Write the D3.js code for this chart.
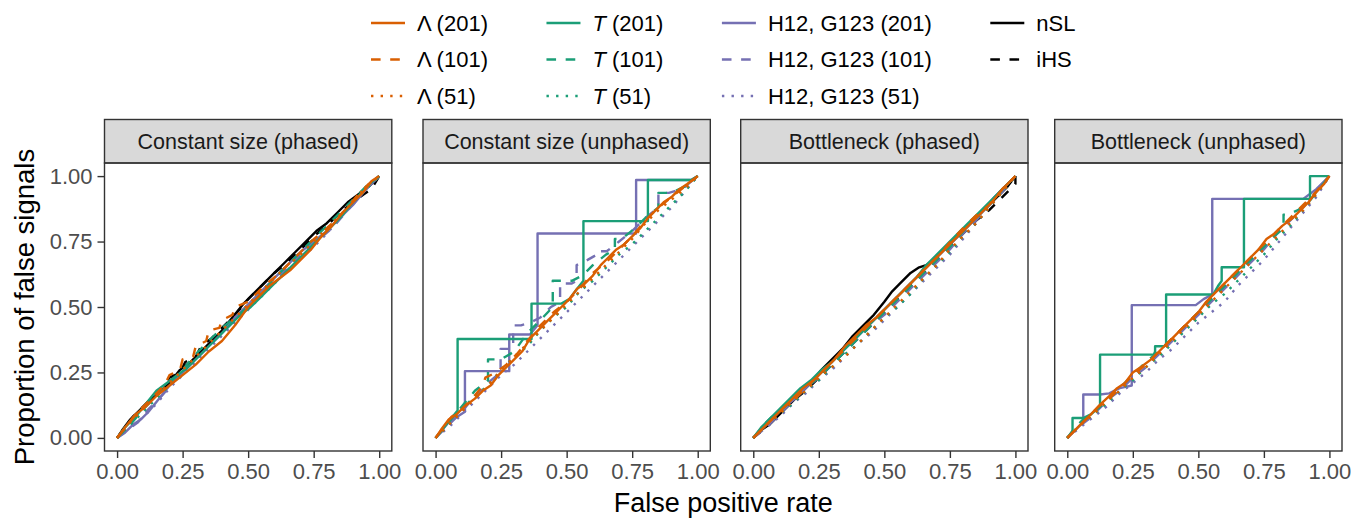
<!DOCTYPE html>
<html>
<head>
<meta charset="utf-8">
<script src="https://cdn.jsdelivr.net/npm/d3@7"></script>
<style>
  html, body { margin: 0; padding: 0; background: #fff; }
  svg { display: block; }
  text { font-family: "Liberation Sans", Arial, sans-serif; }
</style>
</head>
<body>
<svg id="chart" width="1354" height="518"></svg>
<script>
// ---- facet titles and axis ticks ----
const panelTitles = ["Constant size (phased)", "Constant size (unphased)", "Bottleneck (phased)", "Bottleneck (unphased)"];
const tickValues = [0, 0.25, 0.5, 0.75, 1];
const tickLabels = ["0.00", "0.25", "0.50", "0.75", "1.00"];

// ---- series definitions (drawing order: back to front) ----
const seriesKeys   = ["ihs", "nsl", "h51", "h101", "h201", "t51", "t101", "t201", "lam51", "lam101", "lam201"];
const seriesColors = ["#000000", "#000000", "#7570B3", "#7570B3", "#7570B3", "#1B9E77", "#1B9E77", "#1B9E77", "#D95F02", "#D95F02", "#D95F02"];
const seriesTypes  = ["dashed", "solid", "dotted", "dashed", "solid", "dotted", "dashed", "solid", "dotted", "dashed", "solid"];

// ---- Constant size (phased): [false positive rate, proportion of false signals] ----
const cpNSL = [[0,0],[0.02,0.03],[0.05,0.07],[0.08,0.1],[0.12,0.14],[0.16,0.17],[0.2,0.21],[0.24,0.26],[0.28,0.29],[0.32,0.33],[0.36,0.37],[0.4,0.41],[0.44,0.46],[0.48,0.51],[0.52,0.55],[0.56,0.59],[0.6,0.63],[0.64,0.67],[0.68,0.71],[0.72,0.75],[0.76,0.79],[0.8,0.82],[0.84,0.86],[0.88,0.9],[0.92,0.93],[0.96,0.96],[1,1]];
const cpIHS = [[0,0],[0.03,0.04],[0.06,0.08],[0.1,0.12],[0.14,0.16],[0.18,0.2],[0.2,0.23],[0.24,0.25],[0.26,0.29],[0.3,0.31],[0.32,0.35],[0.36,0.38],[0.4,0.42],[0.45,0.47],[0.5,0.53],[0.55,0.58],[0.6,0.63],[0.65,0.67],[0.7,0.72],[0.75,0.77],[0.8,0.81],[0.85,0.86],[0.9,0.9],[0.94,0.93],[0.97,0.95],[1,1]];
const cpLam201 = [[0,0],[0.03,0.04],[0.07,0.09],[0.11,0.12],[0.15,0.16],[0.2,0.2],[0.25,0.24],[0.3,0.28],[0.35,0.33],[0.4,0.37],[0.45,0.43],[0.5,0.5],[0.54,0.54],[0.58,0.58],[0.62,0.61],[0.66,0.64],[0.7,0.68],[0.74,0.72],[0.78,0.77],[0.82,0.81],[0.86,0.86],[0.9,0.9],[0.94,0.94],[0.97,0.98],[1,1]];
const cpLam101 = [[0,0],[0.04,0.05],[0.08,0.1],[0.13,0.15],[0.18,0.2],[0.2,0.24],[0.24,0.26],[0.25,0.3],[0.29,0.31],[0.3,0.35],[0.34,0.37],[0.35,0.41],[0.39,0.42],[0.4,0.45],[0.44,0.47],[0.45,0.5],[0.5,0.52],[0.56,0.58],[0.62,0.63],[0.68,0.69],[0.74,0.75],[0.8,0.8],[0.86,0.86],[0.92,0.93],[0.96,0.97],[1,1]];
const cpLam51 = [[0,0],[0.05,0.06],[0.1,0.11],[0.16,0.17],[0.22,0.23],[0.28,0.29],[0.34,0.35],[0.4,0.41],[0.46,0.47],[0.52,0.53],[0.58,0.59],[0.64,0.65],[0.7,0.7],[0.76,0.76],[0.82,0.82],[0.88,0.88],[0.94,0.95],[1,1]];
const cpT201 = [[0,0],[0.03,0.04],[0.07,0.08],[0.11,0.13],[0.15,0.18],[0.19,0.21],[0.23,0.24],[0.27,0.27],[0.31,0.31],[0.35,0.35],[0.39,0.39],[0.43,0.43],[0.47,0.47],[0.51,0.5],[0.55,0.54],[0.59,0.58],[0.63,0.62],[0.67,0.66],[0.71,0.7],[0.75,0.74],[0.8,0.79],[0.85,0.84],[0.9,0.9],[0.95,0.96],[1,1]];
const cpT101 = [[0,0],[0.05,0.05],[0.1,0.11],[0.15,0.16],[0.2,0.21],[0.25,0.26],[0.3,0.32],[0.35,0.37],[0.4,0.42],[0.45,0.46],[0.5,0.5],[0.55,0.55],[0.6,0.61],[0.65,0.66],[0.7,0.71],[0.75,0.76],[0.8,0.81],[0.85,0.86],[0.9,0.91],[0.95,0.96],[1,1]];
const cpT51 = [[0,0],[0.06,0.06],[0.12,0.12],[0.18,0.18],[0.24,0.24],[0.3,0.3],[0.36,0.36],[0.42,0.42],[0.48,0.48],[0.54,0.53],[0.6,0.59],[0.66,0.65],[0.72,0.71],[0.78,0.77],[0.84,0.83],[0.9,0.9],[0.95,0.95],[1,1]];
const cpH201 = [[0,0],[0.03,0.02],[0.06,0.05],[0.09,0.07],[0.12,0.1],[0.16,0.15],[0.2,0.2],[0.25,0.25],[0.3,0.3],[0.35,0.35],[0.4,0.4],[0.45,0.46],[0.5,0.51],[0.55,0.56],[0.6,0.61],[0.65,0.66],[0.7,0.71],[0.75,0.75],[0.8,0.79],[0.85,0.84],[0.9,0.89],[0.95,0.95],[1,1]];
const cpH101 = [[0,0],[0.04,0.03],[0.08,0.06],[0.12,0.11],[0.17,0.16],[0.22,0.22],[0.28,0.28],[0.34,0.34],[0.4,0.4],[0.46,0.46],[0.52,0.52],[0.58,0.58],[0.64,0.64],[0.7,0.7],[0.76,0.75],[0.82,0.8],[0.88,0.87],[0.94,0.94],[1,1]];
const cpH51 = [[0,0],[0.05,0.04],[0.1,0.08],[0.15,0.13],[0.2,0.19],[0.26,0.25],[0.32,0.31],[0.38,0.37],[0.44,0.43],[0.5,0.49],[0.56,0.55],[0.62,0.61],[0.68,0.67],[0.74,0.72],[0.8,0.78],[0.86,0.85],[0.92,0.92],[1,1]];

// ---- Constant size (unphased) ----
const cuLam201 = [[0,0],[0.02,0.03],[0.05,0.07],[0.08,0.09],[0.11,0.12],[0.15,0.15],[0.18,0.18],[0.21,0.2],[0.24,0.24],[0.27,0.27],[0.3,0.3],[0.33,0.33],[0.36,0.38],[0.39,0.41],[0.42,0.44],[0.45,0.47],[0.48,0.5],[0.51,0.53],[0.54,0.57],[0.57,0.59],[0.6,0.62],[0.63,0.66],[0.66,0.69],[0.69,0.72],[0.72,0.74],[0.75,0.77],[0.78,0.8],[0.81,0.84],[0.84,0.87],[0.87,0.9],[0.9,0.92],[0.93,0.95],[0.96,0.97],[1,1]];
const cuLam101 = [[0,0],[0.03,0.04],[0.06,0.08],[0.1,0.11],[0.14,0.15],[0.18,0.2],[0.19,0.23],[0.23,0.25],[0.27,0.28],[0.31,0.32],[0.35,0.37],[0.4,0.43],[0.45,0.48],[0.5,0.52],[0.55,0.57],[0.6,0.63],[0.65,0.67],[0.7,0.72],[0.75,0.77],[0.8,0.83],[0.85,0.88],[0.9,0.92],[0.95,0.96],[1,1]];
const cuLam51 = [[0,0],[0.05,0.05],[0.1,0.1],[0.15,0.15],[0.2,0.2],[0.25,0.26],[0.3,0.31],[0.35,0.36],[0.4,0.41],[0.45,0.46],[0.5,0.51],[0.55,0.56],[0.6,0.61],[0.65,0.66],[0.7,0.71],[0.75,0.76],[0.8,0.82],[0.85,0.87],[0.9,0.91],[0.95,0.95],[1,1]];
const cuT201 = [[0,0],[0.04,0.05],[0.084,0.105],[0.084,0.378],[0.366,0.378],[0.366,0.513],[0.48,0.513],[0.51,0.53],[0.54,0.57],[0.564,0.6],[0.564,0.828],[0.81,0.828],[0.81,0.985],[0.975,0.985],[1,1]];
const cuT101 = [[0,0],[0.05,0.06],[0.1,0.12],[0.15,0.18],[0.2,0.22],[0.2,0.3],[0.25,0.3],[0.3,0.33],[0.35,0.4],[0.4,0.45],[0.447,0.5],[0.447,0.6],[0.52,0.6],[0.56,0.62],[0.6,0.66],[0.65,0.7],[0.684,0.72],[0.684,0.76],[0.71,0.76],[0.76,0.8],[0.8,0.84],[0.85,0.88],[0.85,0.936],[0.9,0.936],[0.95,0.96],[1,1]];
const cuT51 = [[0,0],[0.05,0.05],[0.1,0.11],[0.15,0.16],[0.2,0.2],[0.25,0.26],[0.3,0.31],[0.35,0.35],[0.4,0.41],[0.45,0.46],[0.5,0.5],[0.55,0.56],[0.6,0.6],[0.65,0.65],[0.7,0.7],[0.75,0.74],[0.8,0.79],[0.85,0.84],[0.9,0.89],[0.95,0.94],[1,1]];
const cuH201 = [[0,0],[0.05,0.06],[0.112,0.1],[0.112,0.255],[0.281,0.255],[0.281,0.395],[0.36,0.395],[0.389,0.43],[0.389,0.781],[0.765,0.781],[0.765,0.985],[0.975,0.985],[1,1]];
const cuH101 = [[0,0],[0.05,0.05],[0.1,0.1],[0.15,0.16],[0.2,0.21],[0.248,0.25],[0.248,0.34],[0.296,0.34],[0.296,0.43],[0.326,0.43],[0.36,0.44],[0.4,0.46],[0.44,0.5],[0.475,0.52],[0.475,0.59],[0.52,0.59],[0.538,0.6],[0.538,0.66],[0.58,0.68],[0.615,0.7],[0.615,0.713],[0.653,0.713],[0.7,0.75],[0.75,0.79],[0.8,0.84],[0.85,0.88],[0.85,0.936],[0.89,0.936],[0.94,0.95],[1,1]];
const cuH51 = [[0,0],[0.05,0.04],[0.1,0.09],[0.15,0.14],[0.2,0.19],[0.25,0.24],[0.3,0.28],[0.35,0.33],[0.4,0.38],[0.45,0.43],[0.5,0.48],[0.55,0.53],[0.6,0.58],[0.65,0.63],[0.7,0.68],[0.75,0.73],[0.8,0.78],[0.85,0.83],[0.9,0.88],[0.95,0.94],[1,1]];

// ---- Bottleneck (phased) ----
const bpNSL = [[0,0],[0.03,0.03],[0.06,0.05],[0.1,0.09],[0.14,0.13],[0.18,0.17],[0.22,0.21],[0.26,0.26],[0.3,0.3],[0.34,0.34],[0.38,0.39],[0.42,0.43],[0.46,0.47],[0.5,0.52],[0.53,0.56],[0.56,0.59],[0.6,0.63],[0.63,0.65],[0.66,0.66],[0.7,0.69],[0.74,0.73],[0.78,0.77],[0.82,0.81],[0.86,0.85],[0.9,0.89],[0.94,0.93],[0.97,0.96],[1,1]];
const bpIHS = [[0,0],[0.05,0.04],[0.1,0.09],[0.15,0.14],[0.2,0.18],[0.25,0.23],[0.3,0.28],[0.35,0.33],[0.4,0.38],[0.45,0.43],[0.5,0.48],[0.55,0.53],[0.6,0.58],[0.65,0.63],[0.7,0.68],[0.75,0.73],[0.8,0.78],[0.85,0.83],[0.9,0.87],[0.95,0.92],[0.98,0.95],[1,0.97],[1,1]];
const bpLam201 = [[0,0],[0.03,0.03],[0.07,0.07],[0.11,0.11],[0.15,0.15],[0.19,0.19],[0.23,0.22],[0.27,0.26],[0.31,0.3],[0.35,0.35],[0.39,0.39],[0.43,0.43],[0.47,0.46],[0.51,0.5],[0.55,0.54],[0.59,0.58],[0.63,0.62],[0.67,0.66],[0.71,0.7],[0.75,0.74],[0.79,0.78],[0.83,0.82],[0.87,0.86],[0.91,0.9],[0.95,0.95],[1,1]];
const bpLam101 = [[0,0],[0.04,0.04],[0.08,0.08],[0.12,0.12],[0.17,0.16],[0.22,0.21],[0.27,0.26],[0.32,0.31],[0.37,0.36],[0.42,0.41],[0.47,0.46],[0.52,0.51],[0.57,0.56],[0.62,0.61],[0.67,0.66],[0.72,0.71],[0.76,0.76],[0.8,0.8],[0.85,0.85],[0.9,0.89],[0.95,0.95],[1,1]];
const bpLam51 = [[0,0],[0.05,0.05],[0.1,0.09],[0.15,0.14],[0.2,0.18],[0.25,0.23],[0.3,0.27],[0.35,0.31],[0.4,0.36],[0.45,0.41],[0.5,0.46],[0.55,0.51],[0.6,0.56],[0.65,0.61],[0.7,0.66],[0.75,0.72],[0.8,0.77],[0.85,0.82],[0.9,0.88],[0.95,0.94],[1,1]];
const bpT201 = [[0,0],[0.03,0.04],[0.06,0.07],[0.1,0.11],[0.14,0.15],[0.18,0.19],[0.22,0.22],[0.26,0.26],[0.3,0.29],[0.34,0.33],[0.38,0.37],[0.42,0.41],[0.46,0.45],[0.5,0.49],[0.54,0.53],[0.58,0.57],[0.62,0.61],[0.66,0.66],[0.7,0.7],[0.74,0.74],[0.78,0.78],[0.82,0.82],[0.86,0.86],[0.9,0.9],[0.95,0.95],[1,1]];
const bpT101 = [[0,0],[0.04,0.05],[0.08,0.09],[0.12,0.12],[0.16,0.15],[0.21,0.2],[0.26,0.24],[0.31,0.29],[0.36,0.34],[0.41,0.39],[0.46,0.44],[0.51,0.49],[0.56,0.54],[0.61,0.59],[0.66,0.64],[0.71,0.69],[0.76,0.74],[0.81,0.8],[0.86,0.85],[0.91,0.9],[0.96,0.96],[1,1]];
const bpT51 = [[0,0],[0.05,0.05],[0.1,0.09],[0.15,0.13],[0.2,0.18],[0.25,0.22],[0.3,0.27],[0.35,0.32],[0.4,0.36],[0.45,0.41],[0.5,0.46],[0.55,0.5],[0.6,0.55],[0.65,0.61],[0.7,0.66],[0.75,0.71],[0.8,0.77],[0.85,0.82],[0.9,0.88],[0.95,0.94],[1,1]];
const bpH201 = [[0,0],[0.04,0.04],[0.08,0.08],[0.12,0.12],[0.16,0.15],[0.2,0.19],[0.24,0.23],[0.28,0.27],[0.32,0.31],[0.36,0.35],[0.4,0.39],[0.44,0.43],[0.48,0.47],[0.52,0.51],[0.56,0.55],[0.6,0.59],[0.64,0.63],[0.68,0.67],[0.72,0.71],[0.76,0.75],[0.8,0.79],[0.84,0.83],[0.88,0.87],[0.92,0.92],[0.96,0.96],[1,1]];
const bpH101 = [[0,0],[0.05,0.04],[0.1,0.09],[0.15,0.14],[0.2,0.19],[0.25,0.23],[0.3,0.28],[0.35,0.33],[0.4,0.38],[0.45,0.43],[0.5,0.47],[0.55,0.52],[0.6,0.57],[0.65,0.62],[0.7,0.67],[0.75,0.72],[0.8,0.78],[0.85,0.83],[0.9,0.89],[0.95,0.94],[1,1]];
const bpH51 = [[0,0],[0.05,0.04],[0.1,0.08],[0.15,0.13],[0.2,0.17],[0.25,0.22],[0.3,0.26],[0.35,0.31],[0.4,0.36],[0.45,0.4],[0.5,0.45],[0.55,0.5],[0.6,0.55],[0.65,0.6],[0.7,0.65],[0.75,0.7],[0.8,0.76],[0.85,0.82],[0.9,0.88],[0.95,0.94],[1,1]];

// ---- Bottleneck (unphased) ----
const buLam201 = [[0,0],[0.03,0.03],[0.06,0.06],[0.09,0.09],[0.125,0.127],[0.16,0.16],[0.19,0.19],[0.22,0.21],[0.25,0.25],[0.28,0.27],[0.32,0.3],[0.35,0.33],[0.38,0.36],[0.41,0.39],[0.44,0.42],[0.47,0.45],[0.5,0.48],[0.53,0.52],[0.56,0.55],[0.6,0.59],[0.63,0.62],[0.66,0.65],[0.7,0.69],[0.73,0.72],[0.76,0.76],[0.79,0.78],[0.82,0.81],[0.86,0.84],[0.89,0.87],[0.92,0.9],[0.95,0.94],[0.98,0.97],[1,1]];
const buLam101 = [[0,0],[0.04,0.04],[0.08,0.08],[0.12,0.12],[0.16,0.15],[0.2,0.19],[0.25,0.24],[0.3,0.28],[0.35,0.33],[0.4,0.38],[0.45,0.43],[0.5,0.48],[0.55,0.54],[0.6,0.59],[0.65,0.64],[0.7,0.69],[0.75,0.74],[0.8,0.79],[0.85,0.84],[0.9,0.89],[0.95,0.94],[1,1]];
const buLam51 = [[0,0],[0.05,0.05],[0.1,0.09],[0.15,0.14],[0.2,0.18],[0.25,0.23],[0.3,0.27],[0.35,0.32],[0.4,0.37],[0.45,0.42],[0.5,0.47],[0.55,0.52],[0.6,0.57],[0.65,0.62],[0.7,0.67],[0.75,0.72],[0.8,0.77],[0.85,0.82],[0.9,0.87],[0.95,0.93],[1,1]];
const buT201 = [[0,0],[0.02,0.025],[0.02,0.076],[0.061,0.076],[0.09,0.09],[0.125,0.12],[0.125,0.318],[0.33,0.318],[0.335,0.33],[0.335,0.35],[0.37,0.35],[0.377,0.36],[0.377,0.548],[0.557,0.548],[0.575,0.58],[0.589,0.6],[0.589,0.652],[0.674,0.652],[0.674,0.913],[0.926,0.913],[0.926,1],[1,1]];
const buT101 = [[0,0],[0.03,0.04],[0.06,0.07],[0.1,0.1],[0.15,0.14],[0.2,0.19],[0.25,0.24],[0.3,0.29],[0.35,0.33],[0.4,0.38],[0.45,0.43],[0.5,0.48],[0.55,0.53],[0.6,0.58],[0.65,0.63],[0.7,0.68],[0.75,0.73],[0.8,0.78],[0.825,0.8],[0.825,0.853],[0.84,0.853],[0.88,0.87],[0.92,0.9],[0.96,0.95],[1,1]];
const buT51 = [[0,0],[0.05,0.05],[0.1,0.09],[0.15,0.13],[0.2,0.18],[0.25,0.22],[0.3,0.27],[0.35,0.31],[0.4,0.36],[0.45,0.41],[0.5,0.46],[0.55,0.51],[0.6,0.55],[0.65,0.6],[0.7,0.65],[0.75,0.7],[0.8,0.76],[0.85,0.81],[0.9,0.87],[0.95,0.93],[1,1]];
const buH201 = [[0,0],[0.03,0.03],[0.061,0.06],[0.061,0.166],[0.125,0.166],[0.16,0.17],[0.2,0.19],[0.246,0.2],[0.246,0.507],[0.49,0.507],[0.52,0.53],[0.553,0.548],[0.553,0.913],[0.9,0.913],[0.95,0.95],[1,1]];
const buH101 = [[0,0],[0.04,0.04],[0.08,0.07],[0.12,0.11],[0.16,0.15],[0.2,0.18],[0.25,0.23],[0.3,0.27],[0.35,0.32],[0.4,0.37],[0.45,0.42],[0.5,0.47],[0.55,0.52],[0.6,0.57],[0.65,0.62],[0.7,0.67],[0.75,0.72],[0.8,0.78],[0.85,0.83],[0.9,0.88],[0.95,0.94],[1,1]];
const buH51 = [[0,0],[0.05,0.04],[0.1,0.08],[0.15,0.12],[0.2,0.17],[0.25,0.21],[0.3,0.25],[0.35,0.3],[0.4,0.34],[0.45,0.39],[0.5,0.44],[0.55,0.48],[0.6,0.52],[0.65,0.58],[0.7,0.63],[0.75,0.68],[0.8,0.74],[0.85,0.8],[0.9,0.86],[0.95,0.92],[1,1]];

// ---- legend entries (columns of the key) ----
const legendColumns = [
  [{key: "lam201", label: ["Λ", " (201)"]}, {key: "lam101", label: ["Λ", " (101)"]}, {key: "lam51", label: ["Λ", " (51)"]}],
  [{key: "t201", label: ["T", " (201)"], italic: true}, {key: "t101", label: ["T", " (101)"], italic: true}, {key: "t51", label: ["T", " (51)"], italic: true}],
  [{key: "h201", label: ["H12, G123", " (201)"]}, {key: "h101", label: ["H12, G123", " (101)"]}, {key: "h51", label: ["H12, G123", " (51)"]}],
  [{key: "nsl", label: ["nSL", ""]}, {key: "ihs", label: ["iHS", ""]}]
];

// series grouped by facet
const panelSeries = [
  {ihs: cpIHS, nsl: cpNSL, h51: cpH51, h101: cpH101, h201: cpH201, t51: cpT51, t101: cpT101, t201: cpT201, lam51: cpLam51, lam101: cpLam101, lam201: cpLam201},
  {h51: cuH51, h101: cuH101, h201: cuH201, t51: cuT51, t101: cuT101, t201: cuT201, lam51: cuLam51, lam101: cuLam101, lam201: cuLam201},
  {ihs: bpIHS, nsl: bpNSL, h51: bpH51, h101: bpH101, h201: bpH201, t51: bpT51, t101: bpT101, t201: bpT201, lam51: bpLam51, lam101: bpLam101, lam201: bpLam201},
  {h51: buH51, h101: buH101, h201: buH201, t51: buT51, t101: buT101, t201: buT201, lam51: buLam51, lam101: buLam101, lam201: buLam201}
];

// ---- layout ----
const svg = d3.select("#chart");
const panelLefts = [104.5, 423, 740.7, 1054.7];
const panelW = 287.3;
const plotTop = 163, plotBottom = 451;
const stripTop = 119.5;
const lineW = 2.4;
const dashFor = t => t === "dashed" ? `${4*lineW},${4*lineW}` : t === "dotted" ? `${lineW},${3*lineW}` : null;
const styleOf = k => { const i = seriesKeys.indexOf(k); return {color: seriesColors[i], type: seriesTypes[i]}; };

const y = d3.scaleLinear().domain([-0.05, 1.05]).range([plotBottom, plotTop]);

panelTitles.forEach((title, p) => {
  const left = panelLefts[p];
  const x = d3.scaleLinear().domain([-0.048, 1.048]).range([left, left + panelW]);
  const g = svg.append("g");

  g.append("rect").attr("x", left).attr("y", plotTop).attr("width", panelW).attr("height", plotBottom - plotTop)
    .attr("fill", "#fff");

  // strip
  g.append("rect").attr("x", left).attr("y", stripTop).attr("width", panelW).attr("height", plotTop - stripTop)
    .attr("fill", "#D9D9D9").attr("stroke", "#333333").attr("stroke-width", 1.4);
  g.append("text").attr("x", left + panelW / 2).attr("y", (stripTop + plotTop) / 2).attr("dy", "0.36em")
    .attr("text-anchor", "middle").attr("font-size", 21.5).attr("fill", "#1A1A1A").text(title);

  // curves
  const clipId = "clip" + p;
  svg.append("clipPath").attr("id", clipId).append("rect")
    .attr("x", left).attr("y", plotTop).attr("width", panelW).attr("height", plotBottom - plotTop);
  const line = d3.line().x(d => x(d[0])).y(d => y(d[1]));
  const series = panelSeries[p];
  seriesKeys.forEach(k => {
    if (!series[k]) return;
    const st = styleOf(k);
    g.append("path").datum(series[k]).attr("d", line)
      .attr("clip-path", `url(#${clipId})`)
      .attr("fill", "none").attr("stroke", st.color).attr("stroke-width", lineW)
      .attr("stroke-linejoin", "round").attr("stroke-linecap", "butt")
      .attr("stroke-dasharray", dashFor(st.type));
  });

  // panel border
  g.append("rect").attr("x", left).attr("y", plotTop).attr("width", panelW).attr("height", plotBottom - plotTop)
    .attr("fill", "none").attr("stroke", "#333333").attr("stroke-width", 1.4);

  // x axis
  const xAxis = d3.axisBottom(x).tickValues(tickValues).tickFormat((d, i) => tickLabels[i]).tickSize(7).tickPadding(5);
  const xa = g.append("g").attr("transform", `translate(0,${plotBottom})`).call(xAxis);
  xa.select(".domain").remove();
  xa.selectAll(".tick line").attr("stroke", "#333333").attr("stroke-width", 1.4);
  xa.selectAll(".tick text").attr("fill", "#4D4D4D").attr("font-size", 22)
    .attr("font-family", "'Liberation Sans', Arial, sans-serif");

  // y axis on the first facet only
  if (p === 0) {
    const yAxis = d3.axisLeft(y).tickValues(tickValues).tickFormat((d, i) => tickLabels[i]).tickSize(7).tickPadding(5);
    const ya = g.append("g").attr("transform", `translate(${left},0)`).call(yAxis);
    ya.select(".domain").remove();
    ya.selectAll(".tick line").attr("stroke", "#333333").attr("stroke-width", 1.4);
    ya.selectAll(".tick text").attr("fill", "#4D4D4D").attr("font-size", 22)
      .attr("font-family", "'Liberation Sans', Arial, sans-serif");
  }
});

// axis titles
svg.append("text").attr("x", (panelLefts[0] + panelLefts[3] + panelW) / 2).attr("y", 512)
  .attr("text-anchor", "middle").attr("font-size", 27).attr("fill", "#000").text("False positive rate");
svg.append("text").attr("transform", `translate(34,${(plotTop + plotBottom) / 2}) rotate(-90)`)
  .attr("text-anchor", "middle").attr("font-size", 27.5).attr("fill", "#000").text("Proportion of false signals");

// legend: columns laid out left to right, each as wide as its longest label
const legendStartX = 371;
const keyW = 34, keyTextGap = 12, columnGap = 58.5;
const legendRowY = [23, 59.5, 96];
const legend = svg.append("g");
let colX = legendStartX;
legendColumns.forEach(col => {
  let maxW = 0;
  col.forEach((item, r) => {
    const st = styleOf(item.key);
    const yy = legendRowY[r];
    legend.append("line").attr("x1", colX).attr("x2", colX + keyW).attr("y1", yy).attr("y2", yy)
      .attr("stroke", st.color).attr("stroke-width", lineW).attr("stroke-dasharray", dashFor(st.type));
    const t = legend.append("text").attr("x", colX + keyW + keyTextGap).attr("y", yy)
      .attr("dy", "0.36em").attr("font-size", 22).attr("fill", "#000");
    t.append("tspan").attr("font-style", item.italic ? "italic" : "normal").text(item.label[0]);
    if (item.label[1]) t.append("tspan").text(item.label[1]);
    maxW = Math.max(maxW, t.node().getComputedTextLength());
  });
  colX += keyW + keyTextGap + maxW + columnGap;
});
</script>
</body>
</html>
